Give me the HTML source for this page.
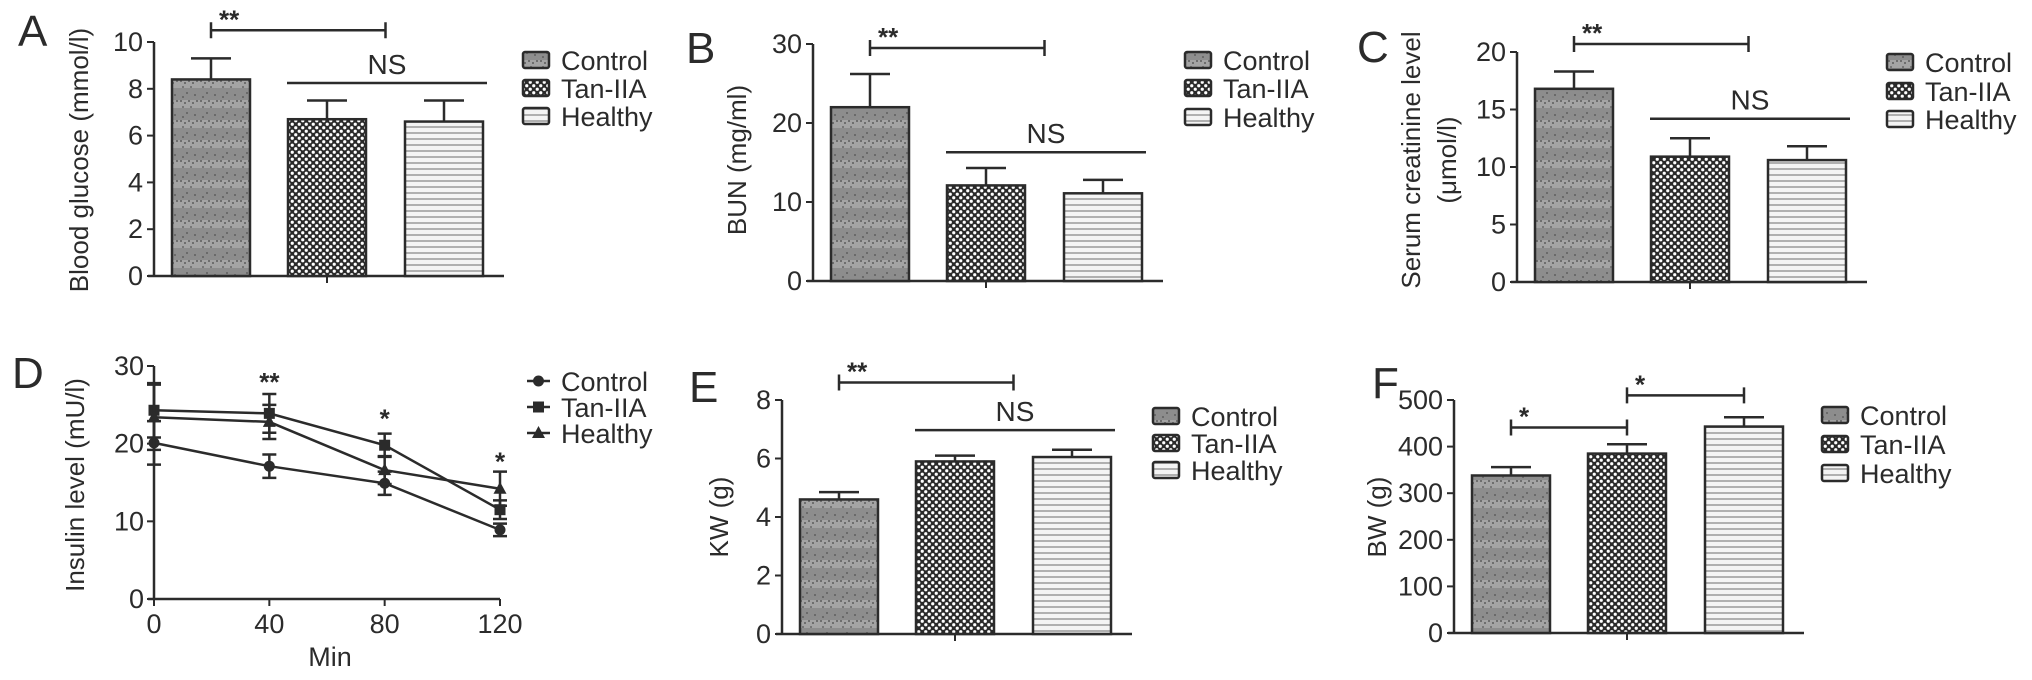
<!DOCTYPE html>
<html><head><meta charset="utf-8">
<style>
html,body{margin:0;padding:0;background:#fff;}
svg{display:block;font-family:"Liberation Sans",Arial,sans-serif;}
</style></head>
<body>
<svg id="fig" width="2032" height="680" viewBox="0 0 2032 680" xmlns="http://www.w3.org/2000/svg">
<defs>
  <pattern id="pCtrl" width="20" height="20" patternUnits="userSpaceOnUse">
    <rect width="20" height="20" fill="#8d8d8d"/>
    <rect y="0" width="20" height="8" fill="#a4a4a4"/>
    <rect x="0" y="0" width="2" height="2" fill="#6e6e6e"/><rect x="4" y="2" width="2" height="2" fill="#6e6e6e"/>
    <rect x="8" y="0" width="2" height="2" fill="#6e6e6e"/><rect x="12" y="2" width="2" height="2" fill="#6e6e6e"/>
    <rect x="16" y="0" width="2" height="2" fill="#6e6e6e"/><rect x="2" y="6" width="2" height="2" fill="#777"/>
    <rect x="10" y="6" width="2" height="2" fill="#777"/><rect x="6" y="12" width="2" height="2" fill="#6a6a6a"/>
    <rect x="14" y="14" width="2" height="2" fill="#6a6a6a"/><rect x="2" y="16" width="2" height="2" fill="#6a6a6a"/>
  </pattern>
  <pattern id="pTan" width="7" height="7" patternUnits="userSpaceOnUse">
    <rect width="7" height="7" fill="#2a2a2a"/>
    <circle cx="1.75" cy="1.75" r="1.6" fill="#fff"/>
    <circle cx="5.25" cy="5.25" r="1.6" fill="#fff"/>
  </pattern>
  <pattern id="pHeal" width="6" height="6" patternUnits="userSpaceOnUse">
    <rect width="6" height="6" fill="#f4f4f4"/>
    <rect y="0" width="6" height="2" fill="#b0b0b0"/>
  </pattern>
</defs>
</svg>
<script>
// ---- data ----
const groups = ["Control","Tan-IIA","Healthy"];
const glucoseVals = [8.4, 6.7, 6.6];
const glucoseErr = [0.9, 0.8, 0.9];
const glucoseTicks = [0,2,4,6,8,10];
const bunVals = [22.0, 12.1, 11.1];
const bunErr = [4.2, 2.2, 1.7];
const bunTicks = [0,10,20,30];
const creatVals = [16.8, 10.9, 10.6];
const creatErr = [1.5, 1.6, 1.2];
const creatTicks = [0,5,10,15,20];
const kwVals = [4.6, 5.9, 6.05];
const kwErr = [0.25, 0.2, 0.25];
const kwTicks = [0,2,4,6,8];
const bwVals = [338, 385, 443];
const bwErr = [18, 20, 20];
const bwTicks = [0,100,200,300,400,500];
const minutes = [0,40,80,120];
const insControl = [20.1, 17.1, 14.9, 8.9];
const insControlErr = [2.8, 1.5, 1.5, 0.8];
const insTan = [24.3, 23.9, 19.8, 11.5];
const insTanErr = [3.5, 2.5, 1.5, 1.2];
const insHealthy = [23.4, 22.8, 16.6, 14.2];
const insHealthyErr = [4.2, 2.2, 1.8, 2.2];
const insTicksY = [0,10,20,30];
const insStars = ["", "**", "*", "*"];
const insStarVals = [0, 27.8, 23.1, 17.6];

const svg = document.getElementById('fig');
const NS = 'http://www.w3.org/2000/svg';
const INK = '#2b2b2b';
function mk(tag, attrs, parent){
  const e = document.createElementNS(NS, tag);
  for (const k in attrs) e.setAttribute(k, attrs[k]);
  (parent||svg).appendChild(e);
  return e;
}
function txt(str, x, y, size, anchor, parent, extra){
  const t = mk('text', Object.assign({x:x, y:y, 'font-size':size, 'text-anchor':anchor||'start', fill:INK}, extra||{}), parent);
  t.textContent = str;
  return t;
}
const patterns = ['url(#pCtrl)','url(#pTan)','url(#pHeal)'];
const barOff = [18, 134, 251], barW = 78;

function barPanel(o){
  const g = mk('g', {});
  
  
  const yS = v => o.y0 - (o.y0 - o.yTop) * v / o.max;
  const cx = i => o.x0 + barOff[Math.floor(i)] + barW/2 + (i % 1 ? (barOff[Math.ceil(i)] - barOff[Math.floor(i)]) * (i % 1) : 0);
  const L = txt(o.letter, o.lx, o.ly, 44, 'start', g);
  
  
  const ax = mk('line', {x1:o.x0, y1:o.yTop, x2:o.x0, y2:o.y0, stroke:INK, 'stroke-width':2.5}, g);
  
  
  const bx = mk('line', {x1:o.x0-6, y1:o.y0, x2:o.x0+350, y2:o.y0, stroke:INK, 'stroke-width':2.5}, g);
  
  
  mk('line', {x1:cx(1), y1:o.y0, x2:cx(1), y2:o.y0+7, stroke:INK, 'stroke-width':2}, g);
  o.ticks.forEach(t => {
    const y = yS(t);
    mk('line', {x1:o.x0-7, y1:y, x2:o.x0, y2:y, stroke:INK, 'stroke-width':2}, g);
    const tl = txt(String(t), o.x0-11, y+9, 27, 'end', g);
    
    
  });
  o.title.forEach((line, k) => {
    const tx = o.tx + k*36;
    const tt = txt(line, tx, o.ty, 26, 'middle', g, {transform:`rotate(-90 ${tx} ${o.ty})`});
    
    
  });
  o.vals.forEach((v, i) => {
    const x = o.x0 + barOff[i];
    const top = yS(v), et = yS(v + o.err[i]);
    const ex = x + barW/2;
    const eb = mk('path', {d:`M${ex},${top} V${et} M${ex-20},${et} H${ex+20}`, stroke:INK, 'stroke-width':2.5, fill:'none'}, g);
    
    
    const r = mk('rect', {x:x, y:top, width:barW, height:o.y0-top, fill:patterns[i], stroke:INK, 'stroke-width':2.5}, g);
    
    
  });
  o.brackets.forEach(b => {
    const y = yS(b.v), x1 = cx(b.a), x2 = cx(b.b);
    const p = mk('path', {d:`M${x1},${y-8} V${y+8} M${x1},${y} H${x2} M${x2},${y-8} V${y+8}`, stroke:INK, 'stroke-width':2.5, fill:'none'}, g);
    
    
    const s = txt(b.s, x1+8, y-2, 26, 'start', g, {'font-weight':'bold'});
    
    
  });
  if (o.ns !== undefined){
    const y = yS(o.ns);
    const l = mk('line', {x1:o.x0+133, y1:y, x2:o.x0+333, y2:y, stroke:INK, 'stroke-width':2.5}, g);
    
    
    const t = txt('NS', o.x0+233, y-9, 28, 'middle', g);
    
    
  }
  const lg = mk('g', {}, g);
  
  
  groups.forEach((n, i) => {
    const y = o.legY[i];
    const sw = mk('rect', {x:o.legX, y:y-8, width:26, height:16, rx:2, fill:patterns[i], stroke:INK, 'stroke-width':2.5}, lg);
    
    
    const t = txt(n, o.legX+38, y+10, 27, 'start', lg);
    
    
  });
}

barPanel({name:'panel-a-blood-glucose', letter:'A', lx:18, ly:46, x0:154, y0:276, yTop:42, max:10, ticks:glucoseTicks,
  title:['Blood glucose (mmol/l)'], tx:88, ty:160, vals:glucoseVals, err:glucoseErr,
  brackets:[{a:0,b:1.5,v:10.5,s:'**'}], ns:8.25, legX:523, legY:[60,88,116]});
barPanel({name:'panel-b-bun', letter:'B', lx:686, ly:63, x0:813, y0:281, yTop:44, max:30, ticks:bunTicks,
  title:['BUN (mg/ml)'], tx:746, ty:160, vals:bunVals, err:bunErr,
  brackets:[{a:0,b:1.5,v:29.5,s:'**'}], ns:16.3, legX:1185, legY:[60,88,117]});
barPanel({name:'panel-c-creatinine', letter:'C', lx:1357, ly:62, x0:1517, y0:282, yTop:52, max:20, ticks:creatTicks,
  title:['Serum creatinine level','(\u03bcmol/l)'], tx:1420, ty:160, vals:creatVals, err:creatErr,
  brackets:[{a:0,b:1.5,v:20.7,s:'**'}], ns:14.2, legX:1887, legY:[62,91,119]});
barPanel({name:'panel-e-kidney-weight', letter:'E', lx:689, ly:402, x0:782, y0:634, yTop:400, max:8, ticks:kwTicks,
  title:['KW (g)'], tx:728, ty:517, vals:kwVals, err:kwErr,
  brackets:[{a:0,b:1.5,v:8.6,s:'**'}], ns:6.97, legX:1153, legY:[416,443,470]});
barPanel({name:'panel-f-body-weight', letter:'F', lx:1372, ly:398, x0:1454, y0:633, yTop:400, max:500, ticks:bwTicks,
  title:['BW (g)'], tx:1386, ty:517, vals:bwVals, err:bwErr,
  brackets:[{a:0,b:1,v:441,s:'*'},{a:1,b:2,v:510,s:'*'}], legX:1822, legY:[415,444,473]});

// ---- panel D line chart ----
(function(){
  const g = mk('g', {});
  
  
  const x0 = 154, x1 = 500, y0 = 599, yTop = 366;
  const xS = m => x0 + (x1 - x0) * m / 120;
  const yS = v => y0 - (y0 - yTop) * v / 30;
  const L = txt('D', 12, 388, 44, 'start', g);
  
  
  const ay = mk('line', {x1:x0, y1:yTop, x2:x0, y2:y0, stroke:INK, 'stroke-width':2.5}, g);
  
  
  const axx = mk('line', {x1:x0-6, y1:y0, x2:x1, y2:y0, stroke:INK, 'stroke-width':2.5}, g);
  
  
  insTicksY.forEach(t => {
    const y = yS(t);
    mk('line', {x1:x0-7, y1:y, x2:x0, y2:y, stroke:INK, 'stroke-width':2}, g);
    const tl = txt(String(t), x0-10, y+9, 27, 'end', g);
    
    
  });
  minutes.forEach(m => {
    const x = xS(m);
    mk('line', {x1:x, y1:y0, x2:x, y2:y0+7, stroke:INK, 'stroke-width':2}, g);
    const tl = txt(String(m), x, y0+34, 27, 'middle', g);
    
    
  });
  const xt = txt('Min', 330, 666, 27, 'middle', g);
  
  
  const yt = txt('Insulin level (mU/l)', 84, 485, 26, 'middle', g, {transform:'rotate(-90 84 485)'});
  
  

  function marker(shape, x, y, parent){
    let e;
    if (shape === 'circle') e = mk('circle', {cx:x, cy:y, r:5.5, fill:INK}, parent);
    else if (shape === 'square') e = mk('rect', {x:x-5.5, y:y-5.5, width:11, height:11, fill:INK}, parent);
    else e = mk('path', {d:`M${x},${y-7} L${x+6.5},${y+5} L${x-6.5},${y+5} Z`, fill:INK}, parent);
    return e;
  }
  const series = [
    {name:'Control', vals:insControl, err:insControlErr, shape:'circle'},
    {name:'Tan-IIA', vals:insTan, err:insTanErr, shape:'square'},
    {name:'Healthy', vals:insHealthy, err:insHealthyErr, shape:'triangle'}
  ];
  series.forEach(s => {
    const sg = mk('g', {}, g);
    
    
    const d = s.vals.map((v, i) => (i ? 'L' : 'M') + xS(minutes[i]) + ',' + yS(v)).join(' ');
    const ln = mk('path', {d:d, stroke:INK, 'stroke-width':2.5, fill:'none'}, sg);
    
    
    s.vals.forEach((v, i) => {
      const x = xS(minutes[i]), yt2 = yS(v + s.err[i]), yb = yS(v - s.err[i]);
      const eb = mk('path', {d:`M${x},${yt2} V${yb} M${x-7},${yt2} H${x+7} M${x-7},${yb} H${x+7}`, stroke:INK, 'stroke-width':2.5, fill:'none'}, sg);
      
      
      const m = marker(s.shape, x, yS(v), sg);
      
      
    });
  });
  insStars.forEach((s, i) => {
    if (!s) return;
    const t = txt(s, xS(minutes[i]), yS(insStarVals[i]) + 8, 26, 'middle', g, {'font-weight':'bold'});
    
    
  });
  const lg = mk('g', {}, g);
  
  
  const legY = [381, 407, 433];
  series.forEach((s, i) => {
    const y = legY[i];
    mk('line', {x1:527, y1:y, x2:550, y2:y, stroke:INK, 'stroke-width':2.5}, lg);
    const m = marker(s.shape, 538.5, y, lg);
    
    
    const t = txt(s.name, 561, y+10, 27, 'start', lg);
    
    
  });
})();
</script>
</body></html>
